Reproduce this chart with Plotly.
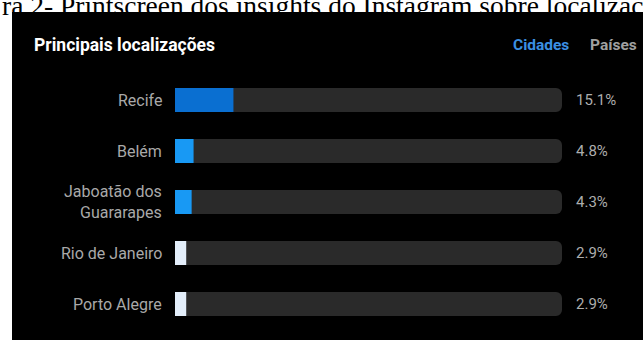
import plotly.graph_objects as go

W, H = 643, 340

cities = ["Recife", "Belém", "Jaboatão dos<br>Guararapes", "Rio de Janeiro", "Porto Alegre"]
shares = [15.1, 4.8, 4.3, 2.9, 2.9]
pct_labels = ["15.1%", "4.8%", "4.3%", "2.9%", "2.9%"]
bar_colors = ["#0a6fd1", "#1899f4", "#1899f4", "#e3eefa", "#e3eefa"]
track_max = 100

def px(x):
    return x / W

def py(y):
    return 1 - y / H

fig = go.Figure()
fig.add_trace(go.Bar(
    y=cities, x=[track_max] * len(cities), orientation="h",
    marker=dict(color="#2a2a2a", cornerradius=6, line=dict(width=0)),
    width=0.47, hoverinfo="skip"))
fig.add_trace(go.Bar(
    y=cities, x=shares, orientation="h",
    marker=dict(color=bar_colors, cornerradius=5, line=dict(width=0)),
    width=0.47, hoverinfo="skip"))

annotations = []
for c, p in zip(cities, pct_labels):
    annotations.append(dict(
        x=px(164), xref="paper", y=c, yref="y", text=c, showarrow=False,
        xanchor="right", align="right",
        font=dict(family="Roboto", size=16, color="#a9a9a9")))
    annotations.append(dict(
        x=px(574), xref="paper", y=c, yref="y", text=p, showarrow=False,
        xanchor="left",
        font=dict(family="Roboto", size=15, color="#adadad")))

annotations += [
    dict(x=px(32), y=py(45), xref="paper", yref="paper", text="<b>Principais localizações</b>",
         showarrow=False, xanchor="left", yanchor="middle",
         font=dict(family="Roboto", size=17.5, color="#ffffff")),
    dict(x=px(511), y=py(45), xref="paper", yref="paper", text="<b>Cidades</b>",
         showarrow=False, xanchor="left", yanchor="middle",
         font=dict(family="Roboto", size=15.5, color="#3b8fe2")),
    dict(x=px(588), y=py(45), xref="paper", yref="paper", text="<b>Países</b>",
         showarrow=False, xanchor="left", yanchor="middle",
         font=dict(family="Roboto", size=15.5, color="#a0a0a0")),
    dict(x=0, y=py(23), xref="paper", yref="paper",
         text="ra 2- Printscreen dos insights do Instagram sobre localizaçõ",
         showarrow=False, xanchor="left", yanchor="bottom",
         font=dict(family="Liberation Serif", size=27.5, color="#000000")),
]

fig.update_layout(
    width=W, height=H,
    margin=dict(l=0, r=0, t=0, b=0),
    paper_bgcolor="#ffffff", plot_bgcolor="rgba(0,0,0,0)",
    barmode="overlay", showlegend=False, hovermode=False,
    xaxis=dict(domain=[px(175), px(562)], range=[0, track_max], visible=False, fixedrange=True),
    yaxis=dict(domain=[py(329.5), py(74.5)], autorange="reversed", visible=False,
               fixedrange=True, type="category"),
    shapes=[dict(type="rect", xref="paper", yref="paper", x0=px(12), x1=1, y0=0, y1=py(12),
                 fillcolor="#000000", line=dict(width=0), layer="below")],
    annotations=annotations,
)

fig.write_html("out.html", config={"displayModeBar": False})
